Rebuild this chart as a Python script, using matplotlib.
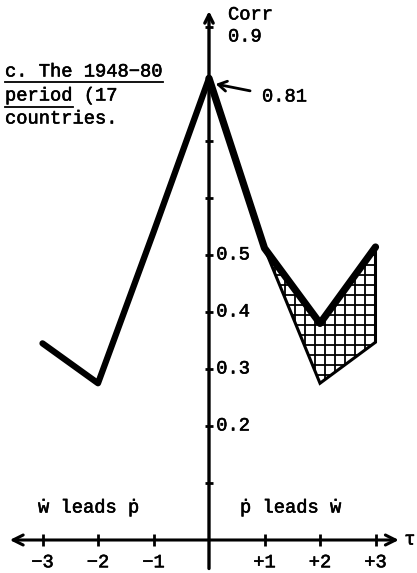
import matplotlib.pyplot as plt
import matplotlib.patches as mpatches
import matplotlib.patheffects as pe

# lag (tau) and correlation values
lags_left = [-3, -2, -1, 0]
corr_left = [0.345, 0.275, 0.54, 0.81]
lags_right = [0, 1, 2, 3]
corr_right = [0.81, 0.512, 0.38, 0.514]
# hatched band between upper and lower edges
band_lags = [1, 2, 3]
band_upper = [0.512, 0.38, 0.514]
band_lower = [0.512, 0.275, 0.347]

xticks = [-3, -2, -1, 1, 2, 3]
xlabels = ['\u22123', '\u22122', '\u22121', '+1', '+2', '+3']
yticks = [0.1, 0.2, 0.3, 0.4, 0.5, 0.6, 0.7, 0.8, 0.9]
ylabels = {0.2: '0.2', 0.3: '0.3', 0.4: '0.4', 0.5: '0.5'}

W, H = 417, 573
DPI = 120  # makes the '++' hatch about 10 px apart
k = 100 / DPI  # point sizes were tuned at 100 dpi
mono = ['Liberation Mono', 'DejaVu Sans Mono']
fs = 13.5 * k
ink = [pe.withStroke(linewidth=0.4 * k, foreground='black')]
plt.rcParams['hatch.linewidth'] = 1.3 * k

fig = plt.figure(figsize=(W / DPI, H / DPI), dpi=DPI)
ax = fig.add_axes([0, 0, 1, 1])
# pixel x = 209 + 55.5*tau ; pixel y = 540 - 570*corr
ax.set_xlim(-209 / 55.5, (W - 209) / 55.5)
ax.set_ylim((540 - H) / 570, 540 / 570)
ax.set_axis_off()


def figtxt(x, y, s, **kw):
    fig.text(x / W, 1 - y / H, s, family=mono, fontsize=fs, path_effects=ink, **kw)


# axes
ax.annotate('', xy=(-3.59, 0), xytext=(3.42, 0),
            arrowprops=dict(arrowstyle='<->,head_length=0.6,head_width=0.3',
                            lw=2.2 * k, color='black', shrinkA=0, shrinkB=0))
ax.annotate('', xy=(0, 0.928), xytext=(0, -0.05),
            arrowprops=dict(arrowstyle='->,head_length=0.5,head_width=0.25',
                            lw=2.4 * k, color='black', shrinkA=0, shrinkB=0))
ax.plot(xticks, [0] * len(xticks), ls='none', marker='|', ms=8 * k, mew=2 * k, color='black')
ax.plot([0] * len(yticks), yticks, ls='none', marker='_', ms=6 * k, mew=2 * k, color='black')

# hatched band
band = list(zip(band_lags, band_upper)) + list(zip(band_lags[::-1], band_lower[::-1]))
ax.add_patch(mpatches.Polygon(band, closed=True, facecolor='white',
                              edgecolor='black', hatch='++', lw=2.2 * k, zorder=2))

# correlation lines
ax.plot(lags_left, corr_left, color='black', lw=4.5 * k, solid_capstyle='round',
        solid_joinstyle='round', zorder=3)
ax.plot(lags_right, corr_right, color='black', lw=5.2 * k, solid_capstyle='round',
        solid_joinstyle='round', zorder=3)

# tick labels
for t, lab in zip(xticks, xlabels):
    ax.text(t, -0.04, lab, family=mono, fontsize=fs, ha='center', va='center',
            path_effects=ink)
for v, lab in ylabels.items():
    ax.text(0.13, v, lab, family=mono, fontsize=fs, ha='left', va='center',
            path_effects=ink)
ax.text(3.52, 0, '\u03c4', family=mono, fontsize=fs, ha='left', va='center',
        path_effects=ink)

figtxt(228, 15, 'Corr', ha='left', va='center')
figtxt(228, 37, '0.9', ha='left', va='center')
figtxt(262, 97, '0.81', ha='left', va='center')
ax.annotate('', xy=(0.12, 0.80), xytext=(0.74, 0.788),
            arrowprops=dict(arrowstyle='->,head_length=0.5,head_width=0.3',
                            lw=2 * k, color='black', shrinkA=0, shrinkB=0))

# panel title
figtxt(5, 72, 'c. The 1948\u221280', ha='left', va='center')
figtxt(5, 96, 'period (17', ha='left', va='center')
figtxt(5, 119, 'countries.', ha='left', va='center')
fig.add_artist(plt.Line2D([5 / W, 163 / W], [1 - 82 / H, 1 - 82 / H], lw=1.3 * k, color='black'))
fig.add_artist(plt.Line2D([5 / W, 73 / W], [1 - 107 / H, 1 - 107 / H], lw=1.3 * k, color='black'))

figtxt(38, 508, '\u1e87 leads \u1e57', ha='left', va='center')
figtxt(240, 508, '\u1e57 leads \u1e87', ha='left', va='center')

fig.savefig('out.png', dpi=DPI)
